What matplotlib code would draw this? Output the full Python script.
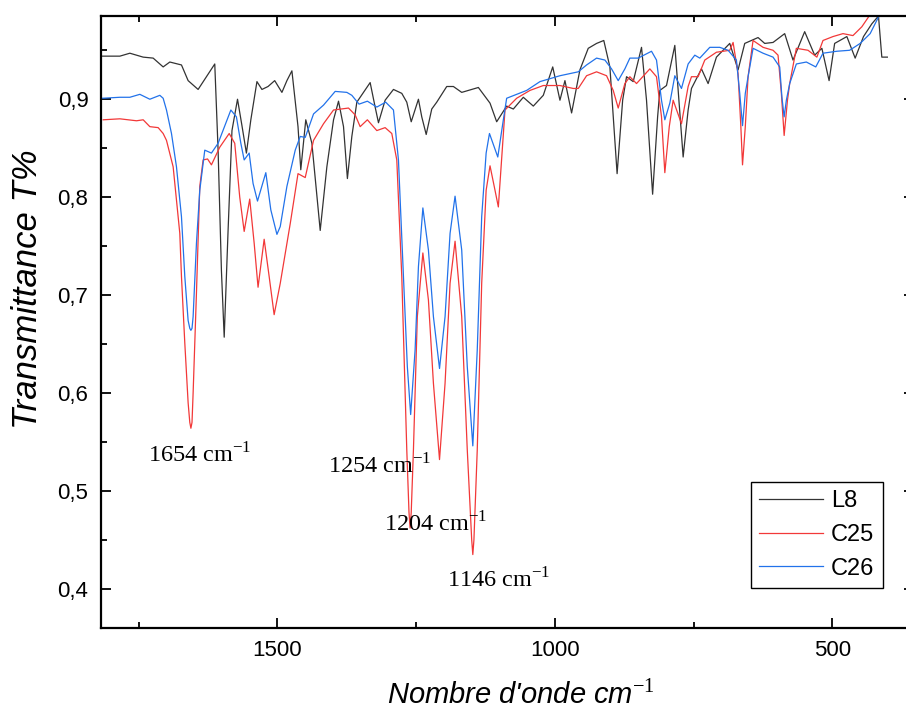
import matplotlib
matplotlib.use('Agg')
import matplotlib.pyplot as plt
from matplotlib.ticker import MultipleLocator, FuncFormatter

# spectra (wavenumber cm-1, transmittance)
l8_wn = [1815, 1784, 1766, 1742, 1724, 1706, 1694, 1673, 1661, 1643, 1628, 1613,
         1607, 1601, 1596, 1589, 1582, 1572, 1564, 1556, 1548, 1537, 1528, 1517,
         1505, 1492, 1483, 1474, 1463, 1458, 1449, 1438, 1423, 1411, 1399, 1390,
         1381, 1374, 1366, 1357, 1345, 1333, 1324, 1318, 1306, 1291, 1276, 1267,
         1259, 1246, 1240, 1232, 1222, 1213, 1195, 1183, 1168, 1138, 1117, 1105,
         1087, 1075, 1057, 1039, 1021, 1004, 991, 982, 970, 955, 940, 925, 912,
         901, 888, 878, 871, 859, 844, 835, 824, 815, 811, 799, 784, 769, 760,
         754, 736, 724, 709, 685, 670, 658, 634, 622, 607, 586, 571, 550, 532,
         519, 506, 496, 474, 459, 444, 429, 417, 411, 401]
l8_t = [0.944, 0.944, 0.947, 0.943, 0.942, 0.933, 0.938, 0.935, 0.919, 0.910, 0.923, 0.936,
        0.848, 0.725, 0.657, 0.766, 0.868, 0.900, 0.873, 0.845, 0.879, 0.918, 0.910, 0.913,
        0.919, 0.907, 0.919, 0.929, 0.872, 0.828, 0.879, 0.855, 0.766, 0.831, 0.879, 0.898,
        0.872, 0.819, 0.862, 0.897, 0.907, 0.917, 0.892, 0.876, 0.899, 0.910, 0.906, 0.897,
        0.877, 0.900, 0.882, 0.864, 0.890, 0.897, 0.913, 0.913, 0.907, 0.912, 0.896, 0.877,
        0.893, 0.890, 0.902, 0.893, 0.904, 0.933, 0.899, 0.919, 0.886, 0.930, 0.952, 0.957, 0.960,
        0.933, 0.824, 0.899, 0.923, 0.918, 0.953, 0.899, 0.803, 0.882, 0.909, 0.914, 0.955, 0.841, 0.889,
        0.911, 0.931, 0.916, 0.943, 0.957, 0.930, 0.957, 0.963, 0.957, 0.958, 0.967, 0.940, 0.969, 0.945,
        0.952, 0.919, 0.957, 0.964, 0.942, 0.964, 0.977, 0.985, 0.943, 0.943]

c25_wn = [1814, 1784, 1754, 1742, 1730, 1715, 1706, 1700, 1688, 1676, 1673, 1667,
          1661, 1658, 1656, 1654, 1652, 1646, 1640, 1634, 1626, 1619, 1604, 1587, 1577, 1568,
          1560, 1550, 1542, 1535, 1524, 1515, 1506, 1495, 1477, 1463, 1450, 1435,
          1417, 1399, 1372, 1360, 1351, 1338, 1321, 1306, 1294, 1285, 1276, 1267,
          1263, 1261, 1259, 1255, 1248, 1238, 1228, 1219, 1208, 1198, 1189, 1180, 1168, 1158,
          1150, 1148, 1146, 1140, 1132, 1124, 1117, 1108, 1102, 1090, 1069, 1045, 1021, 991,
          967, 958, 943, 925, 907, 895, 886, 874, 865, 853, 829, 817, 808, 802,
          794, 787, 772, 760, 754, 742, 730, 709, 685, 679, 670, 665, 662, 657,
          652, 643, 625, 607, 598, 592, 587, 581, 577, 565, 544, 528, 517, 499,
          481, 463, 447, 435, 431]
c25_t = [0.879, 0.880, 0.878, 0.879, 0.872, 0.871, 0.865, 0.858, 0.831, 0.763, 0.719, 0.651,
         0.590, 0.570, 0.564, 0.570, 0.600, 0.702, 0.811, 0.838, 0.839, 0.833, 0.851, 0.865, 0.855, 0.800,
         0.765, 0.798, 0.753, 0.708, 0.757, 0.719, 0.680, 0.712, 0.773, 0.824, 0.820, 0.858,
         0.875, 0.889, 0.891, 0.884, 0.872, 0.879, 0.868, 0.871, 0.865, 0.838, 0.719, 0.542,
         0.478, 0.462, 0.478, 0.542, 0.678, 0.743, 0.695, 0.610, 0.532, 0.610, 0.712, 0.755, 0.678, 0.542,
         0.450, 0.435, 0.450, 0.542, 0.712, 0.807, 0.832, 0.807, 0.790, 0.889, 0.901, 0.909, 0.914, 0.914,
         0.911, 0.911, 0.924, 0.928, 0.924, 0.909, 0.891, 0.916, 0.923, 0.916, 0.931, 0.923, 0.882, 0.825,
         0.872, 0.899, 0.875, 0.913, 0.923, 0.923, 0.940, 0.948, 0.950, 0.958, 0.926, 0.872, 0.833, 0.872,
         0.923, 0.960, 0.953, 0.950, 0.945, 0.906, 0.863, 0.899, 0.916, 0.952, 0.950, 0.943, 0.960, 0.964,
         0.967, 0.965, 0.974, 0.984, 0.991]

c26_wn = [1815, 1784, 1766, 1748, 1730, 1712, 1706, 1700, 1691, 1682, 1673, 1667,
          1661, 1658, 1656, 1654, 1652, 1646, 1640, 1631, 1619, 1607, 1584, 1574, 1566, 1560,
          1551, 1544, 1536, 1521, 1512, 1501, 1495, 1483, 1468, 1459, 1450, 1435,
          1417, 1396, 1375, 1366, 1353, 1338, 1321, 1305, 1291, 1282, 1273, 1266,
          1260, 1252, 1246, 1238, 1228, 1219, 1208, 1198, 1189, 1180, 1168, 1158,
          1148, 1140, 1132, 1124, 1118, 1103, 1093, 1087, 1069, 1051, 1027, 991,
          958, 943, 925, 910, 898, 886, 874, 865, 850, 826, 817, 808, 802, 793,
          784, 772, 760, 748, 739, 721, 703, 688, 673, 667, 662, 657, 652, 643,
          625, 607, 595, 591, 587, 583, 577, 565, 547, 530, 517, 492, 469, 450,
          432, 417, 414]
c26_t = [0.901, 0.902, 0.902, 0.905, 0.900, 0.904, 0.901, 0.889, 0.865, 0.831, 0.780, 0.719,
         0.674, 0.666, 0.664, 0.666, 0.678, 0.753, 0.807, 0.848, 0.845, 0.855, 0.889, 0.882, 0.855, 0.838,
         0.845, 0.814, 0.796, 0.825, 0.787, 0.762, 0.770, 0.811, 0.848, 0.862, 0.861, 0.885,
         0.894, 0.908, 0.907, 0.904, 0.895, 0.898, 0.892, 0.897, 0.889, 0.838, 0.719, 0.627,
         0.578, 0.644, 0.729, 0.789, 0.746, 0.678, 0.625, 0.678, 0.763, 0.801, 0.746, 0.627,
         0.546, 0.644, 0.780, 0.845, 0.865, 0.841, 0.879, 0.901, 0.905, 0.909, 0.918, 0.924,
         0.928, 0.935, 0.942, 0.940, 0.931, 0.919, 0.931, 0.942, 0.942, 0.949, 0.940, 0.899, 0.879, 0.896,
         0.924, 0.911, 0.936, 0.945, 0.942, 0.953, 0.953, 0.950, 0.940, 0.906, 0.873, 0.906, 0.923, 0.952,
         0.947, 0.943, 0.933, 0.902, 0.882, 0.899, 0.916, 0.936, 0.938, 0.933, 0.947, 0.949, 0.950, 0.957,
         0.967, 0.984, 0.991]

peak_labels = ['1654', '1254', '1204', '1146']
label_x = [1733, 1409, 1308, 1195]
label_y = [0.530, 0.519, 0.460, 0.402]

plt.rcParams['mathtext.fontset'] = 'custom'
plt.rcParams['mathtext.rm'] = 'Liberation Serif'
plt.rcParams['mathtext.it'] = 'Liberation Sans:italic'

fig = plt.figure(figsize=(9.06, 7.09), dpi=100)
ax = fig.add_axes([101/906, 81/709, 813/906, 612/709])

ax.plot(l8_wn, l8_t, color='#333333', lw=0.9, label='L8')
ax.plot(c25_wn, c25_t, color='#f23838', lw=0.9, label='C25')
ax.plot(c26_wn, c26_t, color='#2272ea', lw=0.9, label='C26')

ax.set_xlim(1818, 353)
ax.set_ylim(0.360, 0.985)

ax.xaxis.set_major_locator(MultipleLocator(500))
ax.xaxis.set_minor_locator(MultipleLocator(250))
ax.yaxis.set_major_locator(MultipleLocator(0.1))
ax.yaxis.set_minor_locator(MultipleLocator(0.05))
ax.yaxis.set_major_formatter(FuncFormatter(lambda v, p: ('%.1f' % v).replace('.', ',')))

ax.tick_params(which='both', direction='in', top=True, right=True, width=1.3)
ax.tick_params(which='major', length=7)
ax.tick_params(which='minor', length=4)
ax.tick_params(axis='x', pad=8.5)
ax.tick_params(axis='y', pad=9)
for lab in ax.get_xticklabels() + ax.get_yticklabels():
    lab.set_family('Liberation Sans')
    lab.set_fontsize(16)
for sp in ax.spines.values():
    sp.set_linewidth(1.6)

ax.set_xlabel(r"Nombre d'onde cm$^{\mathit{-1}}$", family='Liberation Sans',
              style='italic', fontsize=21)
ax.xaxis.set_label_coords(0.517, -0.1235)
ax.xaxis.label.set_verticalalignment('baseline')
ax.set_ylabel('Transmittance T%', family='Liberation Sans', style='italic', fontsize=25)
ax.yaxis.set_label_coords(-0.090, 0.554)
ax.yaxis.label.set_verticalalignment('center')

for name, x, y in zip(peak_labels, label_x, label_y):
    ax.text(x, y, name + r' cm$^{\mathrm{-1}}$', family='Liberation Serif', fontsize=17.5)

leg = ax.legend(loc='upper left', bbox_to_anchor=((750.7-101)/813, (628-481.7)/612),
                borderaxespad=0, fancybox=False, edgecolor='black', framealpha=1,
                prop={'family': 'Liberation Sans', 'size': 17},
                handlelength=2.7, handletextpad=0.35, labelspacing=0.5, borderpad=0.35)
leg.get_frame().set_linewidth(1.0)

fig.savefig('out.png', dpi=100)
